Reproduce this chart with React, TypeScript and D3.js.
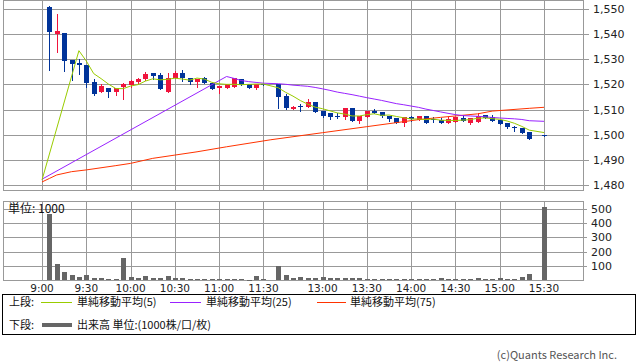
import React from "react";
import * as d3 from "d3";

// slot index: 0 = 9:00, 6 slots per 30 minutes, lunch gap compressed
const slots = [1,2,3,4,5,6,7,8,9,10,11,12,13,14,15,16,17,18,19,20,21,22,23,24,25,26,27,28,29,30,
  32,33,34,35,36,37,38,39,40,41,42,43,44,45,46,47,48,49,50,51,52,53,54,55,56,57,58,59,60,61,62,63,64,65,66,68];

const opens = [1550.9,1540.2,1540.5,1529.7,1528.4,1527.7,1521.1,1517.1,1518.5,1517.1,1518.9,1519.8,1520.8,1522.3,1524.4,
  1523.7,1517.1,1522.5,1524.4,1522.4,1521.1,1522.4,1520.7,1518.5,1518.5,1519.1,1522.2,1520.2,1518.7,1520.1,
  1520.2,1515.4,1510.3,1511.5,1511.1,1513.1,1509.4,1508.5,1507.4,1507.2,1510.5,1505.4,1507.2,1509.5,1509.1,
  1507.4,1506.8,1504.5,1506.9,1505.8,1507.4,1506.1,1505.8,1504.8,1505.2,1506.8,1504.8,1505.2,1507.8,1506.9,
  1505.8,1504.8,1503.1,1502.8,1501.2,1499.8];
const highs = [1551.3,1548.0,1540.5,1529.7,1530.0,1527.7,1522.3,1520.3,1518.5,1518.7,1520.7,1521.6,1522.4,1525.1,1524.4,
  1524.5,1524.4,1525.5,1525.7,1522.4,1522.2,1523.1,1520.7,1519.4,1520.0,1522.4,1522.2,1520.2,1520.0,1520.3,
  1520.2,1516.1,1511.5,1512.2,1514.2,1513.1,1509.6,1508.5,1508.5,1510.5,1510.5,1507.4,1509.5,1510.1,1509.1,
  1507.4,1506.8,1506.9,1507.4,1507.4,1507.4,1506.9,1506.5,1506.9,1507.2,1507.8,1506.5,1508.6,1507.8,1507.8,
  1505.8,1504.8,1503.6,1502.8,1501.2,1499.8];
const lows = [1525.7,1533.0,1525.3,1521.8,1524.1,1519.1,1515.8,1517.1,1515.1,1515.8,1514.2,1519.0,1520.5,1521.8,1522.2,
  1518.1,1517.1,1522.4,1521.5,1520.0,1519.1,1520.4,1518.1,1516.5,1518.5,1519.1,1519.6,1518.7,1518.1,1519.8,
  1510.7,1510.1,1510.3,1509.5,1511.1,1509.1,1507.0,1506.2,1506.5,1506.2,1505.4,1504.8,1507.2,1508.7,1506.9,
  1505.4,1504.5,1503.5,1505.6,1505.8,1504.8,1505.2,1504.5,1504.8,1505.2,1505.6,1504.3,1505.2,1506.8,1505.6,
  1504.3,1502.5,1501.4,1500.6,1498.2,1499.5];
const closes = [1540.9,1541.2,1529.4,1528.0,1527.6,1520.4,1516.2,1519.4,1517.1,1518.7,1520.2,1521.4,1522.2,1524.1,1523.3,
  1518.1,1522.4,1524.5,1522.4,1521.1,1522.2,1520.4,1518.1,1519.4,1520.0,1522.4,1519.6,1518.7,1520.0,1520.0,
  1515.1,1510.5,1511.1,1511.2,1512.9,1509.1,1507.4,1506.9,1507.1,1510.5,1505.4,1507.4,1509.5,1508.8,1507.4,
  1506.1,1504.5,1506.9,1506.4,1507.4,1504.8,1505.7,1504.5,1506.1,1507.2,1505.6,1506.5,1507.4,1506.8,1505.6,
  1504.3,1503.2,1502.8,1500.6,1498.2,1499.5];
const volumes = [460,112,58,35,23,35,16,16,7,7,156,23,16,30,16,16,30,16,16,7,7,7,7,7,7,7,7,5,28,7,
  98,35,16,23,16,16,21,14,14,14,14,14,7,7,7,7,7,7,7,7,7,7,14,7,7,7,7,14,7,7,14,7,7,21,42,511];

const ma5Start = 1482.0;
const ma25Start = 1482.3;
const ma75Slots = [0,1,2,4,6,10,12,15,18,21,25,31,38,44,51,54,59,61,66,68];
const ma75Values = [1481.2,1482.6,1484.0,1485.3,1486.0,1487.7,1488.6,1490.6,1491.9,1493.2,1495.2,1498.0,1500.8,1503.2,1506.0,1506.9,1508.3,1509.4,1510.5,1510.9];

const priceTicks = [1480,1490,1500,1510,1520,1530,1540,1550];
const volumeTicks = [100,200,300,400,500];
const timeSlots = [0,6,12,18,24,30,38,44,50,56,62,68];
const timeLabels = ["9:00","9:30","10:00","10:30","11:00","11:30","13:00","13:30","14:00","14:30","15:00","15:30"];

const BLUE = "#003399";
const RED = "#f0143c";
const GREEN = "#99cc00";
const PURPLE = "#9922ff";
const ORANGE = "#ff3300";
const GRID = "#999999";
const NUMFONT = "'DejaVu Sans', Verdana, sans-serif";
const JPFONT = "'Noto Sans CJK JP', sans-serif";

function movingAverage(n: number, start: number): [number, number][] {
  const pts: [number, number][] = [[0, start]];
  for (let i = n - 1; i < closes.length; i++) {
    pts.push([slots[i], d3.mean(closes.slice(i - n + 1, i + 1)) as number]);
  }
  return pts;
}

export default function App() {
  const W = 638, H = 362;
  const L = 3, R = 583;
  const x = d3.scaleLinear().domain([0, 68]).range([42, 544]);
  const yP = d3.scaleLinear().domain([1480, 1550]).range([185, 9]);
  const yV = d3.scaleLinear().domain([0, 500]).range([280.5, 208.7]);
  const px = (v: number) => Math.round(v) + 0.5;

  const line = d3.line<[number, number]>().x(d => x(d[0])).y(d => yP(d[1]));
  const ma5 = movingAverage(5, ma5Start);
  const ma25 = movingAverage(25, ma25Start);
  const ma75: [number, number][] = ma75Slots.map((s, i) => [s, ma75Values[i]]);

  return (
    <svg width={W} height={H} style={{ position: "absolute", left: 0, top: 0, background: "#fff" }}>
      <rect x={0} y={0} width={W} height={H} fill="#fff" />
      {/* top panel grid */}
      <g shapeRendering="crispEdges">
        {priceTicks.map(t => (
          <g key={"p" + t}>
            <line x1={L} x2={R + 6} y1={px(yP(t))} y2={px(yP(t))} stroke={GRID} />
            <text x={R + 10} y={yP(t) + 4} fontSize={11} fontFamily={NUMFONT} fill="#222">{d3.format(",")(t)}</text>
          </g>
        ))}
        {timeSlots.map(s => (
          <line key={"vt" + s} x1={px(x(s))} x2={px(x(s))} y1={0} y2={190.5} stroke={GRID} />
        ))}
        <rect x={L + 0.5} y={0.5} width={R - L} height={190} fill="none" stroke={GRID} />
      </g>
      {/* candles */}
      <g shapeRendering="crispEdges">
        {slots.map((s, i) => {
          const o = opens[i], c = closes[i];
          const col = c >= o ? RED : BLUE;
          const cx = Math.round(x(s));
          const top = Math.round(yP(Math.max(o, c)));
          const bot = Math.round(yP(Math.min(o, c)));
          return (
            <g key={"c" + i}>
              <line x1={cx + 0.5} x2={cx + 0.5} y1={Math.round(yP(highs[i]))} y2={Math.round(yP(lows[i])) + 1} stroke={col} />
              <rect x={cx - 2} y={top} width={5} height={Math.max(1, bot - top)} fill={col} />
            </g>
          );
        })}
      </g>
      {/* moving averages */}
      <g fill="none" strokeWidth={1}>
        <path d={line(ma75) || ""} stroke={ORANGE} />
        <path d={line(ma25) || ""} stroke={PURPLE} />
        <path d={line(ma5) || ""} stroke={GREEN} />
      </g>

      {/* volume panel */}
      <g shapeRendering="crispEdges">
        {volumeTicks.map(t => (
          <g key={"v" + t}>
            <line x1={L} x2={R + 4} y1={px(yV(t))} y2={px(yV(t))} stroke={GRID} />
            <text x={R + 8} y={yV(t) + 4} fontSize={11} fontFamily={NUMFONT} fill="#222">{t}</text>
          </g>
        ))}
        {timeSlots.map(s => (
          <line key={"vv" + s} x1={px(x(s))} x2={px(x(s))} y1={201.5} y2={280.5} stroke={GRID} />
        ))}
        <rect x={L + 0.5} y={201.5} width={R - L} height={79} fill="none" stroke={GRID} />
        {slots.map((s, i) => {
          const cx = Math.round(x(s));
          const top = Math.round(yV(volumes[i]));
          return <rect key={"vb" + i} x={cx - 2} y={top} width={5} height={Math.max(1, 280 - top)} fill="#666" />;
        })}
      </g>
      <text x={8} y={213} fontSize={12} fontFamily={JPFONT} fill="#111">単位: 1000</text>

      {/* time axis */}
      {timeSlots.map((s, i) => (
        <text key={"tl" + s} x={x(s)} y={292} fontSize={10.5} fontFamily={NUMFONT} textAnchor="middle" fill="#222">{timeLabels[i]}</text>
      ))}

      {/* legend */}
      <rect x={2.5} y={294.5} width={633} height={40} fill="none" stroke="#000" shapeRendering="crispEdges" />
      <g fontSize={11} fontFamily={JPFONT} fill="#111">
        <text x={9} y={306}>上段:</text>
        <line x1={41} x2={72} y1={302.5} y2={302.5} stroke={GREEN} />
        <text x={77} y={306}>単純移動平均(5)</text>
        <line x1={170} x2={201} y1={302.5} y2={302.5} stroke={PURPLE} />
        <text x={206} y={306}>単純移動平均(25)</text>
        <line x1={317} x2={346} y1={302.5} y2={302.5} stroke={ORANGE} />
        <text x={350} y={306}>単純移動平均(75)</text>
        <text x={9} y={329}>下段:</text>
        <line x1={42} x2={72} y1={325} y2={325} stroke="#666" strokeWidth={4} />
        <text x={77} y={329}>出来高 単位:(1000株/口/枚)</text>
      </g>
      <text x={617} y={359} fontSize={11} fontFamily={JPFONT} fill="#555" textAnchor="end">(c)Quants Research Inc.</text>
    </svg>
  );
}
